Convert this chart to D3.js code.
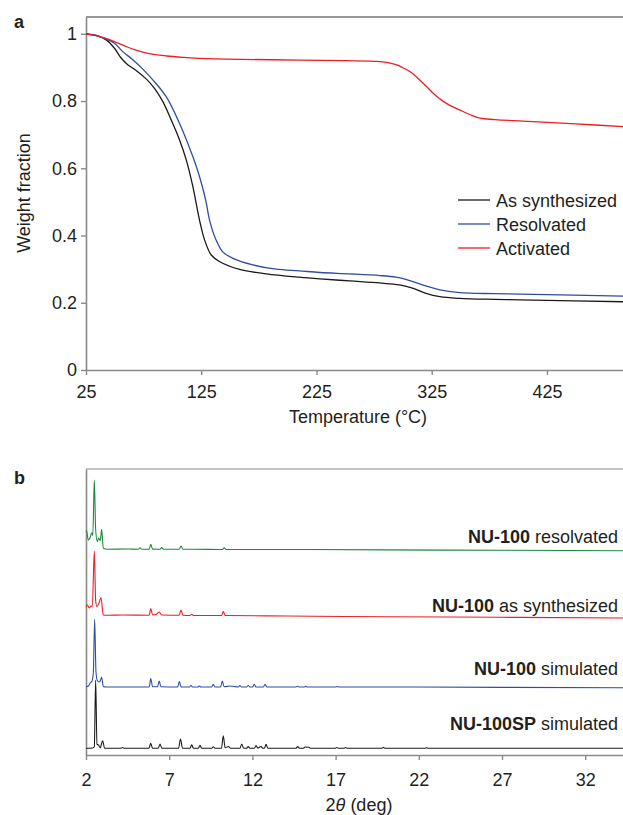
<!DOCTYPE html>
<html>
<head>
<meta charset="utf-8">
<script src="https://cdn.jsdelivr.net/npm/d3@7"></script>
<style>
  html, body { margin: 0; padding: 0; background: #fff; }
  svg { display: block; }
  text { font-family: "Liberation Sans", Arial, Helvetica, sans-serif; fill: #231f20; }
</style>
</head>
<body>
<svg id="chart" width="623" height="815"></svg>
<script>
// ---------- Panel a: TGA data ----------
const tgaTicksX = [25, 125, 225, 325, 425];
const tgaTicksY = [0, 0.2, 0.4, 0.6, 0.8, 1];
const tgaSeriesNames = ["As synthesized", "Resolvated", "Activated"];

const asSynthT = [25, 33.8, 42.5, 49.7, 55.5, 61.2, 68.5, 77.2, 84.4, 91.6, 98.9, 106.1, 112, 117.7, 123.5, 127.9, 133.7, 141.1, 158.3, 181.5, 210, 228, 254, 280, 297, 309, 320, 332, 349, 380, 413, 491];
const asSynthW = [1.0, 0.995, 0.982, 0.957, 0.928, 0.908, 0.891, 0.866, 0.838, 0.799, 0.744, 0.685, 0.625, 0.546, 0.446, 0.387, 0.342, 0.322, 0.299, 0.286, 0.276, 0.271, 0.265, 0.259, 0.253, 0.243, 0.228, 0.218, 0.213, 0.21, 0.208, 0.203];

const resolvT = [25, 33.8, 42.5, 49.7, 56.9, 65.6, 74.3, 83, 94.6, 106.1, 117.7, 122, 126, 129.5, 132.2, 137.5, 143.5, 152.5, 169.8, 190, 210, 228, 254, 280, 294, 306, 320, 332, 349, 380, 413, 491];
const resolvW = [1.0, 0.995, 0.984, 0.972, 0.947, 0.923, 0.895, 0.863, 0.813, 0.734, 0.635, 0.592, 0.545, 0.495, 0.446, 0.39, 0.352, 0.332, 0.3125, 0.30, 0.295, 0.29, 0.286, 0.281, 0.276, 0.266, 0.25, 0.238, 0.23, 0.227, 0.225, 0.22];

const activT = [25, 35, 46, 53, 60, 67, 75, 85, 95, 110, 124, 160, 210, 250, 277, 287, 294, 300, 306, 313, 320.5, 328, 335, 342, 349, 358, 367, 380, 413, 450, 491];
const activW = [1.0, 0.993, 0.982, 0.972, 0.962, 0.953, 0.945, 0.938, 0.934, 0.93, 0.927, 0.924, 0.922, 0.92, 0.918, 0.914, 0.908, 0.899, 0.888, 0.868, 0.843, 0.818, 0.799, 0.785, 0.774, 0.76, 0.749, 0.745, 0.739, 0.732, 0.724];

// ---------- Panel b: PXRD data ([2theta, intensity above baseline], a.u.) ----------
const xrdTicks = [2, 7, 12, 17, 22, 27, 32];
const xrdNames = ["resolvated", "as synthesized", "simulated", "simulated"];
const xrdBold = ["NU-100", "NU-100", "NU-100", "NU-100SP"];
const xrdOffsets = [205.5, 139.5, 68, 6.7];

const resolvatedXRD = [[2.00,17.8],[2.03,19],[2.14,9.5],[2.27,13],[2.34,16.8],[2.41,14],[2.50,69.5],[2.58,20],[2.68,7.8],[2.75,11.5],[2.86,9],[2.94,20.2],[3.04,1.2],[3.3,0.3],[4.5,0.5],[5.15,0.2],[5.25,1.8],[5.35,0.2],[5.80,0.3],[5.89,5.2],[6.00,0.4],[6.45,0.3],[6.55,2],[6.65,0.3],[7.60,0.2],[7.71,3.5],[7.82,0.2],[8.4,0.3],[10.20,0],[10.31,1.8],[10.42,0],[14,0],[20,-0.4],[27,-0.8],[34.3,-1.2]];

const asSynthXRD = [[2.00,8.8],[2.08,10.5],[2.2,7.5],[2.3,9.5],[2.38,9],[2.50,64.5],[2.58,15],[2.66,8.8],[2.78,12.5],[2.90,17.8],[3.04,0.5],[3.3,0.3],[4.2,0.5],[5.80,0.3],[5.89,7],[6.00,0.6],[6.20,1],[6.40,3.5],[6.55,0.5],[7.60,0.3],[7.71,5.5],[7.82,0.3],[8.25,0],[8.35,1.2],[8.45,0],[10.15,0],[10.25,4],[10.36,0],[14,-0.5],[20,-1.2],[27,-1.8],[34.3,-2.5]];

const simXRD = [[2.00,0.3],[2.15,1],[2.25,4],[2.36,6],[2.44,14],[2.52,67.7],[2.60,15],[2.68,6.5],[2.78,5],[2.86,6],[2.94,9.7],[3.04,0.5],[3.2,0],[5.80,0],[5.89,8.5],[6.00,0.3],[6.30,0.2],[6.40,6],[6.50,0.3],[7.50,0],[7.61,5.4],[7.72,0],[8.22,0],[8.31,1.5],[8.40,0],[8.72,0],[8.81,1],[8.90,0],[9.55,0],[9.65,2.7],[9.75,0],[10.09,0],[10.19,6],[10.30,0.3],[10.65,1],[11.15,0],[11.25,1.5],[11.35,0],[11.65,0],[11.75,1.5],[11.85,0],[12.0,0],[12.11,2.7],[12.22,0],[12.66,0],[12.76,2.7],[12.87,0],[14.6,0],[14.7,0.8],[14.8,0],[15.1,0],[15.2,0.6],[15.3,0],[17.0,0],[17.1,0.5],[17.2,0],[20,0],[27,-0.4],[34.3,-0.7]];

const spSimXRD = [[2.00,0],[2.40,0.3],[2.50,1.5],[2.58,68.3],[2.66,4],[2.75,3.3],[2.85,0.5],[3.00,7.6],[3.12,0],[4.10,0],[4.2,0.8],[4.3,0],[5.78,0],[5.89,5],[6.00,0],[6.34,0],[6.45,4.3],[6.56,0],[7.56,0],[7.68,9.3],[7.80,0],[8.25,0],[8.35,3.6],[8.46,0],[8.75,0],[8.85,3],[8.95,0],[9.55,0],[9.65,1.6],[9.75,0],[10.14,0],[10.25,12.6],[10.36,0.5],[10.55,1.8],[10.7,0],[11.25,0],[11.36,4.3],[11.47,0],[11.65,0],[11.75,1.8],[11.85,0],[12.12,0],[12.22,2.8],[12.32,0.3],[12.52,1.8],[12.62,0],[12.72,0],[12.82,4],[12.93,0],[14.62,0],[14.72,1.8],[14.82,0],[15.06,0],[15.16,1.3],[15.4,1],[15.5,0],[16.97,0],[17.07,0.8],[17.17,0],[17.5,0],[17.6,0.8],[17.7,0],[19.77,0],[19.87,1],[19.97,0],[22.37,0],[22.47,0.6],[22.57,0],[34.3,0]];

// ---------- Drawing ----------
const svg = d3.select("#chart");
const axisColor = "#8a8a8a";
const tgaColors = ["#1a1a1a", "#2d4ea2", "#ee1c25"];
const xrdColors = ["#1b8a3e", "#ee1c25", "#2d4ea2", "#1a1a1a"];

// Panel a
const xT = d3.scaleLinear().domain([25, 491]).range([86, 623]);
const yT = d3.scaleLinear().domain([0, 1.05]).range([370, 17]);

svg.append("line").attr("x1", xT(25)).attr("x2", 623).attr("y1", yT(1.05)).attr("y2", yT(1.05))
  .attr("stroke", "#333").attr("stroke-width", 1.2);

function styleAxis(g) {
  g.selectAll("path.domain").attr("stroke", axisColor).attr("stroke-width", 1.6);
  g.selectAll(".tick line").attr("stroke", axisColor).attr("stroke-width", 1.4);
  g.selectAll(".tick text").attr("fill", "#231f20").style("font-size", "18px")
    .style("font-family", '"Liberation Sans", Arial, sans-serif');
}

svg.append("g").attr("transform", `translate(0,${yT(0)})`)
  .call(d3.axisBottom(xT).tickValues(tgaTicksX).tickSize(5).tickSizeOuter(0).tickPadding(10))
  .call(styleAxis);
svg.append("g").attr("transform", `translate(${xT(25)},0)`)
  .call(d3.axisLeft(yT).tickValues(tgaTicksY).tickSize(5).tickSizeOuter(0).tickPadding(4)
    .tickFormat(d => (d === 0 || d === 1) ? String(d) : d.toFixed(1)))
  .call(styleAxis);

const tgaLine = d3.line().x(d => xT(d[0])).y(d => yT(d[1])).curve(d3.curveCatmullRom.alpha(0.5));
const tgaData = [
  d3.zip(asSynthT, asSynthW),
  d3.zip(resolvT, resolvW),
  d3.zip(activT, activW)
];
tgaData.forEach((pts, i) => {
  svg.append("path").datum(pts).attr("d", tgaLine)
    .attr("fill", "none").attr("stroke", tgaColors[i]).attr("stroke-width", 1.3);
});

// legend
tgaSeriesNames.forEach((name, i) => {
  const y = 200 + i * 24;
  svg.append("line").attr("x1", 458).attr("x2", 490).attr("y1", y).attr("y2", y)
    .attr("stroke", tgaColors[i]).attr("stroke-width", 1.3);
  svg.append("text").attr("x", 496).attr("y", y + 6.5).style("font-size", "18px").text(name);
});

svg.append("text").attr("transform", "translate(30,193) rotate(-90)").attr("text-anchor", "middle")
  .style("font-size", "18px").text("Weight fraction");
svg.append("text").attr("x", 358).attr("y", 423).attr("text-anchor", "middle")
  .style("font-size", "18px").text("Temperature (°C)");
svg.append("text").attr("x", 14).attr("y", 28).style("font-size", "18px").style("font-weight", "bold").text("a");

// Panel b
const xB = d3.scaleLinear().domain([2, 34.27]).range([86, 623]);
const yB = d3.scaleLinear().domain([0, 286]).range([755, 469]);

svg.append("line").attr("x1", xB(2)).attr("x2", 623).attr("y1", yB(286)).attr("y2", yB(286))
  .attr("stroke", axisColor).attr("stroke-width", 1.2);

svg.append("g").attr("transform", `translate(0,${yB(0)})`)
  .call(d3.axisBottom(xB).tickValues(xrdTicks).tickSize(5).tickSizeOuter(0).tickPadding(13))
  .call(styleAxis);
svg.append("g").attr("transform", `translate(${xB(2)},0)`)
  .call(d3.axisLeft(yB).tickValues([]).tickSizeOuter(0))
  .call(styleAxis);

const xrdData = [resolvatedXRD, asSynthXRD, simXRD, spSimXRD];
xrdData.forEach((pts, i) => {
  const line = d3.line().x(d => xB(d[0])).y(d => yB(d[1] + xrdOffsets[i])).curve(d3.curveMonotoneX);
  svg.append("path").datum(pts).attr("d", line)
    .attr("fill", "none").attr("stroke", xrdColors[i]).attr("stroke-width", 1.1);
});

const labelBaselines = [543, 612, 675, 730];
xrdNames.forEach((name, i) => {
  const t = svg.append("text").attr("x", 618).attr("y", labelBaselines[i]).attr("text-anchor", "end")
    .style("font-size", "18px");
  t.append("tspan").style("font-weight", "bold").text(xrdBold[i]);
  t.append("tspan").text(" " + name);
});

const xt = svg.append("text").attr("x", 359).attr("y", 811).attr("text-anchor", "middle").style("font-size", "18px");
xt.append("tspan").text("2");
xt.append("tspan").style("font-style", "italic").text("θ");
xt.append("tspan").text(" (deg)");

svg.append("text").attr("x", 14).attr("y", 484).style("font-size", "18px").style("font-weight", "bold").text("b");
</script>
</body>
</html>
